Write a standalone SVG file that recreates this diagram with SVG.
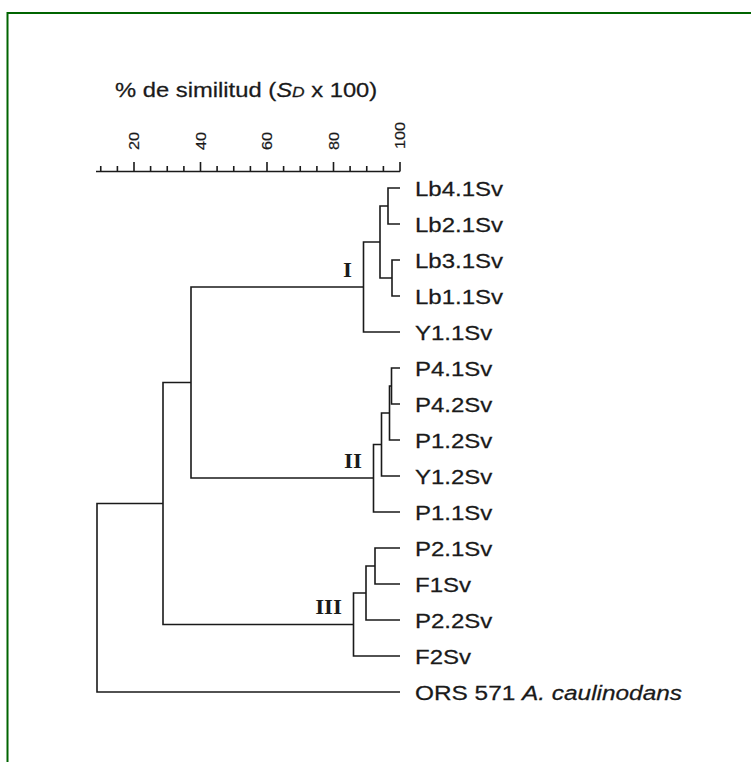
<svg xmlns="http://www.w3.org/2000/svg" width="751" height="762" viewBox="0 0 751 762">
<style>
.t{font-family:"Liberation Sans",Arial,sans-serif;font-size:20.5px;fill:#1a1a1a;stroke:#1a1a1a;stroke-width:0.25}
.ax{font-family:"Liberation Sans",Arial,sans-serif;font-size:15px;fill:#1a1a1a;stroke:#1a1a1a;stroke-width:0.2}
.rn{font-family:"Liberation Serif","Times New Roman",serif;font-size:20px;font-weight:bold;fill:#1a1a1a;text-anchor:end}
.ln{fill:none;stroke:#1a1a1a;stroke-width:1.6}
</style>
<rect x="0" y="0" width="751" height="762" fill="#fff"/>
<rect x="7.5" y="13" width="800" height="800" fill="none" stroke="#006400" stroke-width="2"/>
<g id="axis">
<text class="t" transform="translate(115 97) scale(1.16 1)">% de similitud (<tspan font-style="italic">S</tspan><tspan font-style="italic" font-size="15">D</tspan> x 100)</text>
<path class="ln" d="M96 171.5H400M100.75 166V171.5M117.4 166V171.5M134 162V171.5M150.6 166V171.5M167.25 166V171.5M183.9 166V171.5M200.5 162V171.5M217.1 166V171.5M233.75 166V171.5M250.4 166V171.5M267 162V171.5M283.6 166V171.5M300.25 166V171.5M316.9 166V171.5M333.5 162V171.5M350.1 166V171.5M366.75 166V171.5M383.4 166V171.5M400 162V171.5"/>
<text class="ax" transform="translate(139 150) rotate(-90) scale(1.08 1)">20</text>
<text class="ax" transform="translate(205.5 150) rotate(-90) scale(1.08 1)">40</text>
<text class="ax" transform="translate(272 150) rotate(-90) scale(1.08 1)">60</text>
<text class="ax" transform="translate(338.5 150) rotate(-90) scale(1.08 1)">80</text>
<text class="ax" transform="translate(405 149) rotate(-90) scale(1.08 1)">100</text>
</g>
<g id="connectors">
<path class="ln" d="M400 188H388V224H400"/>
<path class="ln" d="M400 260H392V296H400"/>
<path class="ln" d="M388 206H380V278H392"/>
<path class="ln" d="M380 242H363.5V332H400"/>
<path class="ln" d="M400 368H391.5V404H400"/>
<path class="ln" d="M391.5 386H389.5V440H400"/>
<path class="ln" d="M389.5 413H381.5V476H400"/>
<path class="ln" d="M381.5 444.5H373.5V512H400"/>
<path class="ln" d="M400 548H375V584H400"/>
<path class="ln" d="M375 566H366V620H400"/>
<path class="ln" d="M366 593H353.5V656H400"/>
<path class="ln" d="M363.5 287H191V478H373.5"/>
<path class="ln" d="M191 382.5H163V624.5H353.5"/>
<path class="ln" d="M163 503.5H97V692H400"/>
</g>
<g id="leaf-Lb4.1Sv"><text class="t" transform="translate(415 195.5) scale(1.17 1)">Lb4.1Sv</text></g>
<g id="leaf-Lb2.1Sv"><text class="t" transform="translate(415 231.5) scale(1.17 1)">Lb2.1Sv</text></g>
<g id="leaf-Lb3.1Sv"><text class="t" transform="translate(415 267.5) scale(1.17 1)">Lb3.1Sv</text></g>
<g id="leaf-Lb1.1Sv"><text class="t" transform="translate(415 303.5) scale(1.17 1)">Lb1.1Sv</text></g>
<g id="leaf-Y1.1Sv"><text class="t" transform="translate(415 339.5) scale(1.17 1)">Y1.1Sv</text></g>
<g id="leaf-P4.1Sv"><text class="t" transform="translate(415 375.5) scale(1.17 1)">P4.1Sv</text></g>
<g id="leaf-P4.2Sv"><text class="t" transform="translate(415 411.5) scale(1.17 1)">P4.2Sv</text></g>
<g id="leaf-P1.2Sv"><text class="t" transform="translate(415 447.5) scale(1.17 1)">P1.2Sv</text></g>
<g id="leaf-Y1.2Sv"><text class="t" transform="translate(415 483.5) scale(1.17 1)">Y1.2Sv</text></g>
<g id="leaf-P1.1Sv"><text class="t" transform="translate(415 519.5) scale(1.17 1)">P1.1Sv</text></g>
<g id="leaf-P2.1Sv"><text class="t" transform="translate(415 555.5) scale(1.17 1)">P2.1Sv</text></g>
<g id="leaf-F1Sv"><text class="t" transform="translate(415 591.5) scale(1.17 1)">F1Sv</text></g>
<g id="leaf-P2.2Sv"><text class="t" transform="translate(415 627.5) scale(1.17 1)">P2.2Sv</text></g>
<g id="leaf-F2Sv"><text class="t" transform="translate(415 663.5) scale(1.17 1)">F2Sv</text></g>
<g id="leaf-ORS571"><text class="t" transform="translate(415 699.5) scale(1.19 1)">ORS 571 <tspan font-style="italic">A. caulinodans</tspan></text></g>
<g id="cluster-I"><text class="rn" transform="translate(352 277) scale(1.15 1)">I</text></g>
<g id="cluster-II"><text class="rn" transform="translate(362 468) scale(1.15 1)">II</text></g>
<g id="cluster-III"><text class="rn" transform="translate(342 614) scale(1.15 1)">III</text></g>
</svg>
